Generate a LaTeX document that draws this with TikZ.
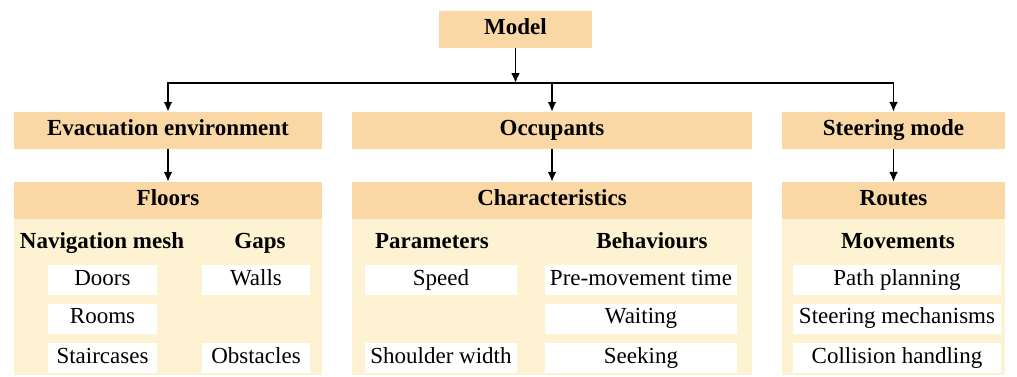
\documentclass[tikz,border=0pt]{standalone}
\usepackage{fontspec}
\setmainfont{Liberation Serif}
\usetikzlibrary{arrows.meta}
\definecolor{headorange}{RGB}{249,216,165}
\definecolor{bodycream}{RGB}{253,243,210}

\begin{document}
\begin{tikzpicture}[x=1pt,y=-1pt,
  head/.style={fill=headorange,inner sep=0pt,minimum height=37pt,text height=15.5pt,text depth=5pt,font=\fontsize{23}{27}\selectfont\bfseries},
  sub/.style={inner sep=0pt,text height=15.5pt,text depth=5pt,font=\fontsize{23}{27}\selectfont\bfseries},
  item/.style={fill=white,inner sep=0pt,minimum height=30pt,text height=15.5pt,text depth=5pt,font=\fontsize{23}{27}\selectfont},
  link/.style={line width=1.9pt,-{Latex[length=10pt,width=9pt]}}]
\useasboundingbox (0,0) rectangle (1017,376);

\node[head,minimum width=153pt] (model) at (515.5,29) {Model};

\node[head,minimum width=308pt] (evac) at (168,130.5) {Evacuation environment};
\node[head,minimum width=400pt] (occ) at (552,130.5) {Occupants};
\node[head,minimum width=223pt] (steer) at (893.5,130.5) {Steering mode};

\fill[bodycream] (14,219) rectangle (322,375);
\fill[bodycream] (352,219) rectangle (752,375);
\fill[bodycream] (782,219) rectangle (1005,375);

\node[head,minimum width=308pt] (floors) at (168,200.5) {Floors};
\node[head,minimum width=400pt] (chars) at (552,200.5) {Characteristics};
\node[head,minimum width=223pt] (routes) at (893.5,200.5) {Routes};

\coordinate (bus) at (515.5,83);
\draw[link] (model) -- (bus);
\draw[link] (bus) -| (evac);
\draw[link] (bus) -| (occ);
\draw[link] (bus) -| (steer);
\draw[link] (evac) -- (floors);
\draw[link] (occ) -- (chars);
\draw[link] (steer) -- (routes);

\node[sub] (navmesh) at (102,243) {Navigation mesh};
\node[sub] (gaps) at (260,243) {Gaps};
\node[item,minimum width=109pt] (doors) at (102.5,280) {Doors};
\node[item,minimum width=109pt] (rooms) at (102.5,318.5) {Rooms};
\node[item,minimum width=109pt] (stairs) at (102.5,358) {Staircases};
\node[item,minimum width=108pt] (walls) at (256,280) {Walls};
\node[item,minimum width=108pt] (obst) at (256,358) {Obstacles};

\node[sub] (params) at (432,243) {Parameters};
\node[sub] (behav) at (652,243) {Behaviours};
\node[item,minimum width=152pt] (speed) at (441,280) {Speed};
\node[item,minimum width=152pt] (shoulder) at (441,358) {Shoulder width};
\node[item,minimum width=192pt] (premove) at (641,280) {Pre-movement time};
\node[item,minimum width=192pt] (waiting) at (641,318.5) {Waiting};
\node[item,minimum width=192pt] (seeking) at (641,358) {Seeking};

\node[sub] (moves) at (898,243) {Movements};
\node[item,minimum width=208pt] (path) at (897,280) {Path planning};
\node[item,minimum width=208pt] (steermech) at (897,318.5) {Steering mechanisms};
\node[item,minimum width=208pt] (collision) at (897,358) {Collision handling};
\end{tikzpicture}
\end{document}
